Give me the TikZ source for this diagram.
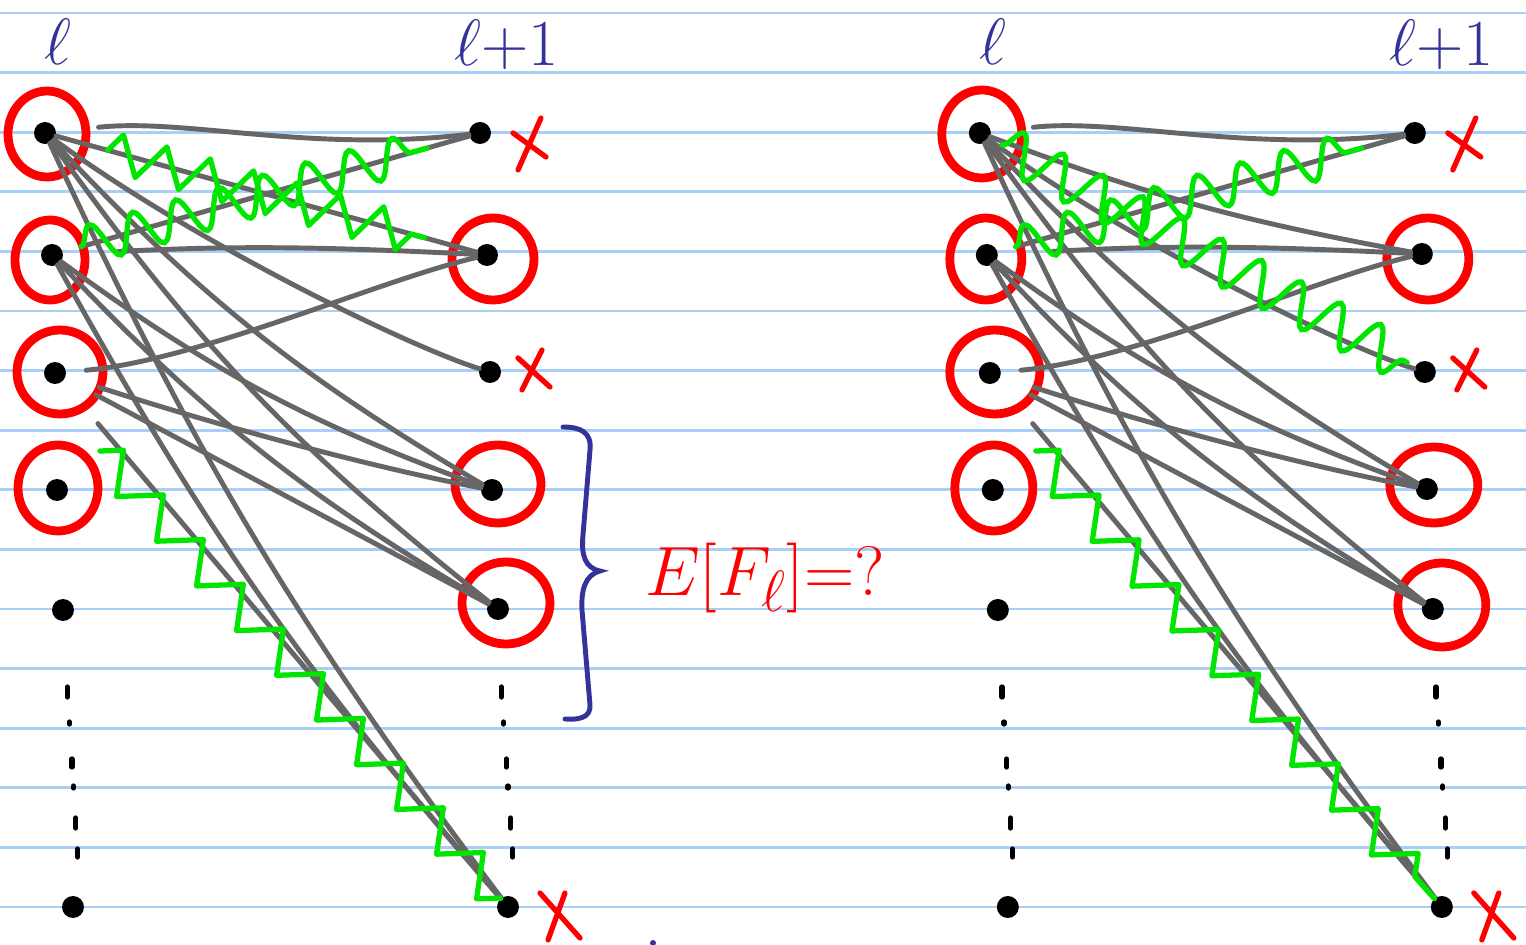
\documentclass[tikz,border=0pt]{standalone}
\usepackage{graphicx}
\usetikzlibrary{calc, decorations.pathmorphing}
\definecolor{ink}{HTML}{333399}
\definecolor{pen}{HTML}{FF0000}
\definecolor{hilite}{HTML}{00E600}
\definecolor{linkgray}{HTML}{666666}
\definecolor{ruled}{HTML}{A9CFF7}

\begin{document}
\begin{tikzpicture}[
  x=0.02cm, y=-0.02cm,
  nrn/.style={circle, fill=black, inner sep=0pt, minimum size=0.44cm},
  ring/.style={pen, line width=5pt},
  link/.style={linkgray, line width=2.8pt, line cap=round},
  wavy/.style={hilite, line width=3pt, line cap=round, line join=round,
    decorate, decoration={zigzag, segment length=0.9cm, amplitude=0.38cm}},
  snaky/.style={hilite, line width=3pt, line cap=round,
    decorate, decoration={snake, segment length=0.9cm, amplitude=0.38cm}},
  xmark/.style={pen, line width=3pt, line cap=round},
  vdots/.style={black, line width=3pt, line cap=round},
  ruling/.style={ruled, line width=1.5pt},
  layer/.style={text=ink, font=\Huge},
]
\fill[white] (0,0) rectangle (1526,945);
\useasboundingbox (0,0) rectangle (1526,945);

% ruled paper
\foreach \k in {0,...,15}
  \draw[ruling] (0,{13+59.6*\k}) -- (1526,{13+59.6*\k});

% Panel 1
\begin{scope}
  \node[layer] (lab1) at (58,42) {\scalebox{1.5}{$\ell$}};
  \node[layer] (lab2) at (507,45) {\scalebox{1.5}{$\ell{+}1$}};
  % layer l
  \foreach \n/\x/\y in {1/45/133, 2/52/255, 3/55/373, 4/57/490, 5/63/610, b/73/907}
    \node[nrn] (u\n) at (\x,\y) {};
  % layer l+1
  \foreach \n/\x/\y in {1/480/133, 2/487/255, 3/490/372, 4/492/490, 5/498/609, b/508/907}
    \node[nrn] (v\n) at (\x,\y) {};
  % circled units
  \draw[ring] ($(u1)+(2,1)$) ellipse [x radius=39, y radius=43];
  \draw[ring] ($(u2)+(-2,5)$) ellipse [x radius=35, y radius=40];
  \draw[ring] ($(u3)+(5,-1)$) ellipse [x radius=43, y radius=42];
  \draw[ring] ($(u4)+(1,-2)$) ellipse [x radius=40, y radius=43];
  \draw[ring] ($(v2)+(6,4)$) ellipse [x radius=41, y radius=41];
  \draw[ring] ($(v4)+(6,-6)$) ellipse [x radius=43, y radius=39];
  \draw[ring] ($(v5)+(8,-6)$) ellipse [x radius=44, y radius=41];
  % grey links
  \draw[link, shorten <=0.85cm] (u1) .. controls +(140,-15) and +(-170,20) .. (v1);
  \draw[link] (u1) -- (v2);
  \draw[link] (u1) .. controls +(150,110) and +(-80,-25) .. (v3);
  \draw[link] (u1) to[bend right=8] (v4);
  \draw[link] (u1) to[bend right=8] (v5);
  \draw[link] (u1) to[bend right=6] (vb);
  \draw[link, shorten <=0.4cm] (u2) -- (v1);
  \draw[link, shorten <=1.1cm] (u2) to[bend left=3] (v2);
  \draw[link] (u2) to[bend right=8] (v4);
  \draw[link] (u2) to[bend right=8] (v5);
  \draw[link] (u2) to[bend right=6] (vb);
  \draw[link, shorten <=0.4cm] (u3) .. controls +(145,-13) and +(-107,25) .. (v2);
  \draw[link, shorten <=0.7cm] (u3) .. controls +(145,47) and +(-132,-25) .. (v4);
  \draw[link, shorten <=0.7cm] (u3) -- (v5);
  \draw[link, shorten <=1.1cm] (u3) -- (vb);
  % green paths
  \draw[wavy] ($(u1)!1.3cm!(v2)$) -- ($(v2)!1.3cm!(u1)$);
  \draw[snaky] ($(u2)!0.6cm!(v1)$) -- ($(v1)!1.1cm!(u2)$);
  \draw[wavy, decoration={segment length=1.2cm, amplitude=0.36cm}]
    ($(u4)+(43,-39)$) -- (vb);
  % dropped units
  \draw[xmark] (v1) ++(61,-15) -- ++(-23,52) (v1) ++(33,0) -- ++(33,24);
  \draw[xmark] (v3) ++(52,-22) -- ++(-20,40) (v3) ++(28,-14) -- ++(32,29);
  \draw[xmark] (vb) ++(57,-14) -- ++(-17,47) (vb) ++(32,-14) -- ++(40,45);
  % vertical dots
  \foreach \y/\h in {692/5, 723/1, 763/4, 787/1, 823/5, 853/4} {
    \draw[vdots] ({67+(\y-688)*0.065},{\y-\h}) -- ({67+(\y-688)*0.065},{\y+\h});
    \draw[vdots] ({501+(\y-688)*0.07},{\y-\h}) -- ({501+(\y-688)*0.07},{\y+\h});
  }
  % brace and question
  \draw[ink, line width=2.8pt, line cap=round]
    (563,427) .. controls (580,427) and (592,432) .. (590,450) -- (583,535)
    .. controls (581,555) and (585,568) .. (600,571)
    .. controls (585,575) and (581,590) .. (582,610) -- (590,705)
    .. controls (591,718) and (578,720) .. (565,719);
  \node[text=pen, font=\Huge] (fq) at (765,578) {\scalebox{1.6}{$E[F_\ell]{=}?$}};
  \fill[ink] (653,943) circle (3);
\end{scope}

% Panel 2
\begin{scope}[xshift=18.7cm]
  \node[layer] (lab3) at (58,42) {\scalebox{1.5}{$\ell$}};
  \node[layer] (lab4) at (507,45) {\scalebox{1.5}{$\ell{+}1$}};
  % layer l
  \foreach \n/\x/\y in {1/45/133, 2/52/255, 3/55/373, 4/58/490, 5/63/610, b/73/907}
    \node[nrn] (s\n) at (\x,\y) {};
  % layer l+1
  \foreach \n/\x/\y in {1/480/133, 2/487/254, 3/490/372, 4/492/489, 5/498/609, b/507/907}
    \node[nrn] (t\n) at (\x,\y) {};
  % circled units
  \draw[ring] ($(s1)+(2,1)$) ellipse [x radius=40, y radius=44];
  \draw[ring] ($(s2)+(-1,4)$) ellipse [x radius=36, y radius=41];
  \draw[ring] ($(s3)+(5,-1)$) ellipse [x radius=45, y radius=42];
  \draw[ring] ($(s4)+(1,-2)$) ellipse [x radius=39, y radius=43];
  \draw[ring] ($(t2)+(6,5)$) ellipse [x radius=41, y radius=41];
  \draw[ring] ($(t4)+(7,-4)$) ellipse [x radius=44, y radius=38];
  \draw[ring] ($(t5)+(9,-4)$) ellipse [x radius=44, y radius=42];
  % grey links
  \draw[link, shorten <=0.85cm] (s1) .. controls +(140,-15) and +(-170,20) .. (t1);
  \draw[link] (s1) to[bend right=5] (t2);
  \draw[link] (s1) .. controls +(150,110) and +(-80,-25) .. (t3);
  \draw[link] (s1) to[bend right=8] (t4);
  \draw[link] (s1) to[bend right=8] (t5);
  \draw[link] (s1) to[bend right=6] (tb);
  \draw[link, shorten <=0.4cm] (s2) -- (t1);
  \draw[link, shorten <=1.1cm] (s2) to[bend left=3] (t2);
  \draw[link] (s2) to[bend right=8] (t4);
  \draw[link] (s2) to[bend right=8] (t5);
  \draw[link] (s2) to[bend right=6] (tb);
  \draw[link, shorten <=0.4cm] (s3) .. controls +(145,-13) and +(-107,25) .. (t2);
  \draw[link, shorten <=0.7cm] (s3) .. controls +(145,47) and +(-132,-25) .. (t4);
  \draw[link, shorten <=0.7cm] (s3) -- (t5);
  \draw[link, shorten <=1.1cm] (s3) -- (tb);
  % green paths
  \draw[snaky, decoration={amplitude=0.42cm}] ($(s1)!0.5cm!(t3)$) -- ($(t3)!0.4cm!(s1)$);
  \draw[snaky] ($(s2)!0.6cm!(t1)$) -- ($(t1)!1.1cm!(s2)$);
  \draw[wavy, decoration={segment length=1.2cm, amplitude=0.36cm}]
    ($(s4)+(43,-39)$) -- (tb);
  % dropped units
  \draw[xmark] (t1) ++(61,-15) -- ++(-23,52) (t1) ++(33,0) -- ++(33,24);
  \draw[xmark] (t3) ++(52,-22) -- ++(-20,40) (t3) ++(28,-14) -- ++(32,29);
  \draw[xmark] (tb) ++(57,-14) -- ++(-17,47) (tb) ++(32,-14) -- ++(40,45);
  % vertical dots
  \foreach \y/\h in {692/5, 723/1, 763/4, 787/1, 823/5, 853/4} {
    \draw[vdots] ({67+(\y-688)*0.065},{\y-\h}) -- ({67+(\y-688)*0.065},{\y+\h});
    \draw[vdots] ({501+(\y-688)*0.07},{\y-\h}) -- ({501+(\y-688)*0.07},{\y+\h});
  }
\end{scope}
\end{tikzpicture}
\end{document}
